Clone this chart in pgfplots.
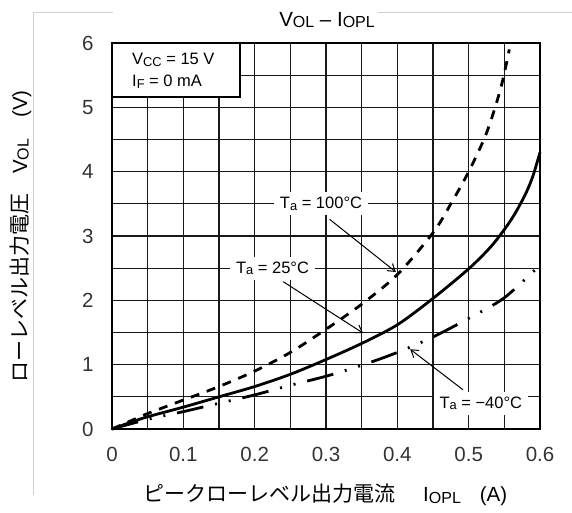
\documentclass[border=0pt]{standalone}
\usepackage{pgfplots}
\pgfplotsset{compat=1.18}
\usepackage{fontspec}
\setmainfont{Liberation Sans}
\newfontfamily\cjk{Noto Sans CJK JP}
\usetikzlibrary{arrows.meta}

% subscript as used in the data sheet: small, barely lowered
\newcommand\sub[1]{\raisebox{-1.5pt}{\scalebox{0.78}{#1}}}
\newcommand\bigfont{\fontsize{20.5}{24}\selectfont}
\newcommand\notefont{\fontsize{16.5}{19}\selectfont}

\begin{document}
\begin{tikzpicture}
\path[use as bounding box] (0,0) rectangle (572pt,513pt);

% faint frame of the scanned page
\draw[black!18, line width=0.9pt] (33pt,501pt) -- (33pt,18pt);
\draw[black!18, line width=0.9pt] (33pt,501pt) -- (113pt,501pt);
\draw[black!18, line width=0.9pt] (378pt,501pt) -- (572pt,501pt);

\begin{axis}[
    at={(112pt,84pt)}, anchor=south west,
    width=428pt, height=386pt, scale only axis,
    xmin=0, xmax=0.6, ymin=0, ymax=6,
    xtick={0,0.1,0.2,0.3,0.4,0.5,0.6},
    ytick={0,1,2,3,4,5,6},
    minor x tick num=1, minor y tick num=1,
    grid=both,
    major grid style={black!90, line width=1.1pt},
    minor grid style={black!90, line width=1.1pt},
    major tick length=0pt, minor tick length=0pt,
    axis line style={line width=1.8pt},
    ticklabel style={font=\bigfont, text=black!80},
    xticklabel style={yshift=-15pt},
    yticklabel style={xshift=-15pt},
    /pgf/number format/assume math mode=true,
    /pgf/number format/fixed,
    clip=false,
]

% Ta = 25 C
\addplot[black, line width=2.8pt, smooth] coordinates {
    (0,0)(0.025,0.1)(0.05,0.19)(0.1,0.34)(0.15,0.5)(0.2,0.66)(0.25,0.85)
    (0.3,1.08)(0.35,1.33)(0.4,1.62)(0.45,2.03)(0.5,2.49)(0.53,2.82)
    (0.55,3.1)(0.565,3.35)(0.58,3.66)(0.59,3.93)(0.6,4.3)
};
% Ta = 100 C
\addplot[black, line width=2.8pt, smooth, dash pattern=on 9pt off 8pt] coordinates {
    (0,0)(0.025,0.12)(0.05,0.24)(0.1,0.45)(0.15,0.66)(0.2,0.9)(0.25,1.19)
    (0.3,1.55)(0.35,1.94)(0.4,2.4)(0.45,3.05)(0.475,3.5)(0.5,4.0)
    (0.525,4.6)(0.545,5.3)(0.557,5.9)
};
% Ta = -40 C
\addplot[black, line width=2.8pt, smooth,
    dash pattern=on 27pt off 12pt on 2pt off 12pt on 2pt off 12pt] coordinates {
    (0,0)(0.05,0.15)(0.1,0.27)(0.15,0.4)(0.2,0.53)(0.25,0.68)(0.3,0.82)
    (0.35,0.99)(0.4,1.19)(0.45,1.43)(0.5,1.72)(0.55,2.04)(0.6,2.55)
};

% condition box
\draw[line width=2.2pt, fill=white] (axis cs:0,6) rectangle (axis cs:0.1795,5.16);
\node[anchor=base west, inner sep=0, font=\notefont] at (axis cs:0.028,5.66) {V\sub{CC} = 15 V};
\node[anchor=base west, inner sep=0, font=\notefont] at (axis cs:0.028,5.32) {I\sub{F} = 0 mA};

% curve labels
\tikzset{lbl/.style={fill=white, font=\notefont, inner xsep=6pt, inner ysep=5pt}}
\draw[-{Straight Barb[length=7pt,width=9pt]}, line width=1pt]
    (axis cs:0.305,3.26) -- (axis cs:0.398,2.44);
\draw[-{Straight Barb[length=7pt,width=9pt]}, line width=1pt]
    (axis cs:0.24,2.29) -- (axis cs:0.352,1.49);
\draw[-{Straight Barb[length=7pt,width=9pt]}, line width=1pt]
    (axis cs:0.492,0.61) -- (axis cs:0.418,1.24);
\node[lbl] at (axis cs:0.293,3.5) {T\sub{a} = 100°C};
\node[lbl] at (axis cs:0.225,2.5) {T\sub{a} = 25°C};
\node[lbl] at (axis cs:0.517,0.4) {T\sub{a} = −40°C};
\end{axis}

% title and axis labels
\node[font=\bigfont] at (327pt,493pt) {V\sub{OL} – I\sub{OPL}};
\node[anchor=base west, inner sep=0, font=\bigfont] at (143pt,11pt)
    {{\cjk\fontsize{21}{24}\selectfont ピークローレベル出力電流}\hspace{28pt}I\sub{OPL}\hspace{19pt}(A)};
\node[anchor=base west, inner sep=0, rotate=90, font=\bigfont] at (27pt,130pt)
    {{\cjk\fontsize{21}{24}\selectfont ローレベル出力電圧}\hspace{20pt}V\sub{OL}\hspace{21pt}(V)};
\end{tikzpicture}
\end{document}
